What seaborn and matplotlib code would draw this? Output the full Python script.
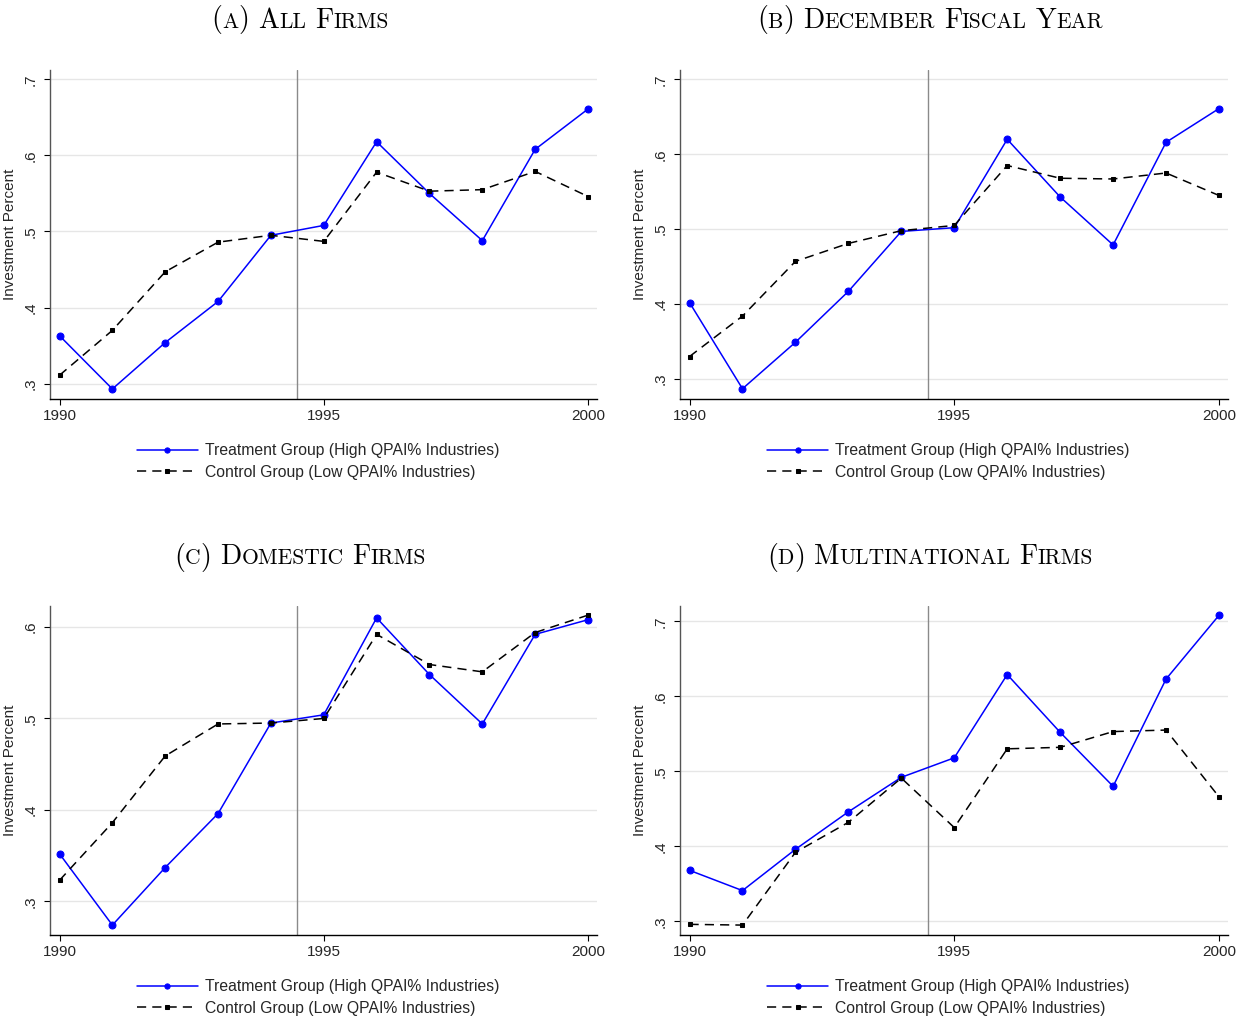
import pandas as pd
import matplotlib
matplotlib.use("Agg")
import matplotlib.pyplot as plt
from matplotlib.offsetbox import TextArea, HPacker, DrawingArea, AnnotationBbox
from matplotlib.ticker import FuncFormatter
import seaborn as sns

# Data
years = list(range(1990, 2001))

treat_all = [0.363, 0.293, 0.354, 0.408, 0.495, 0.508, 0.618, 0.550, 0.488, 0.608, 0.661]
ctrl_all = [0.311, 0.370, 0.447, 0.486, 0.495, 0.487, 0.578, 0.553, 0.555, 0.579, 0.546]

treat_dec = [0.402, 0.287, 0.349, 0.417, 0.497, 0.502, 0.620, 0.543, 0.479, 0.616, 0.661]
ctrl_dec = [0.330, 0.384, 0.457, 0.481, 0.498, 0.505, 0.585, 0.568, 0.567, 0.575, 0.545]

treat_dom = [0.352, 0.274, 0.337, 0.396, 0.495, 0.504, 0.610, 0.548, 0.494, 0.592, 0.608]
ctrl_dom = [0.323, 0.386, 0.459, 0.494, 0.495, 0.500, 0.592, 0.559, 0.551, 0.594, 0.613]

treat_mne = [0.368, 0.341, 0.396, 0.446, 0.492, 0.518, 0.629, 0.552, 0.480, 0.623, 0.708]
ctrl_mne = [0.296, 0.295, 0.392, 0.432, 0.491, 0.425, 0.530, 0.532, 0.553, 0.555, 0.466]

panel_letters = ["a", "b", "c", "d"]
panel_titles = ["All Firms", "December Fiscal Year", "Domestic Firms", "Multinational Firms"]
yticks_top = [0.3, 0.4, 0.5, 0.6, 0.7]
yticks_dom = [0.3, 0.4, 0.5, 0.6]
xticks = [1990, 1995, 2000]
treat_label = "Treatment Group (High QPAI% Industries)"
ctrl_label = "Control Group (Low QPAI% Industries)"

sns.set_style("white")
plt.rcParams["font.family"] = ["Liberation Sans", "DejaVu Sans"]

fig = plt.figure(figsize=(12.44, 10.17), dpi=100)

W, H = 1244, 1017
panels = [
    # axes box in pixels (left, top, right, bottom), ylim, yticks, title centre x, title centre y
    ((50, 70, 597, 399), (0.2798, 0.7123), yticks_top, 300, 20, treat_all, ctrl_all),
    ((680, 70, 1228, 399), (0.2733, 0.7125), yticks_top, 930, 20, treat_dec, ctrl_dec),
    ((50, 606, 597, 935), (0.2632, 0.6230), yticks_dom, 300, 557, treat_dom, ctrl_dom),
    ((680, 606, 1228, 935), (0.2818, 0.7204), yticks_top, 930, 557, treat_mne, ctrl_mne),
]


def smallcaps_title(ax, letter, title, cx, cy):
    big, small = 20, 15.5
    props_big = dict(family="cmr10", size=big, color="black")
    props_small = dict(family="cmr10", size=small, color="black")
    parts = [TextArea("(", textprops=props_big),
             TextArea(letter.upper(), textprops=props_small),
             TextArea(")", textprops=props_big)]
    for word in title.split():
        parts.append(DrawingArea(6.5, 1))
        parts.append(TextArea(word[0], textprops=props_big))
        parts.append(TextArea(word[1:].upper(), textprops=props_small))
    box = HPacker(children=parts, align="baseline", pad=0, sep=0)
    ab = AnnotationBbox(box, (cx / W, 1 - cy / H), xycoords="figure fraction",
                        frameon=False, box_alignment=(0.5, 0.5), annotation_clip=False)
    ax.add_artist(ab)


for (box, ylim, yt, tx, ty, treat, ctrl), letter, title in zip(panels, panel_letters, panel_titles):
    l, t, r, b = box
    ax = fig.add_axes([l / W, 1 - b / H, (r - l) / W, (b - t) / H])

    df = pd.DataFrame({"year": years, "treat": treat, "ctrl": ctrl})

    for y in yt:
        ax.axhline(y, color="#e6e6e6", lw=1.0, zorder=0)
    ax.axvline(1994.5, color="#8a8a8a", lw=1.0, zorder=1)

    sns.lineplot(data=df, x="year", y="treat", ax=ax, color="#0000ff", lw=1.1,
                 marker="o", markersize=5, markeredgecolor="#0000ff",
                 label=treat_label, zorder=3)
    sns.lineplot(data=df, x="year", y="ctrl", ax=ax, color="black", lw=1.1,
                 linestyle=(0, (6, 4)), marker="s", markersize=3.5,
                 markeredgecolor="black", label=ctrl_label, zorder=4)

    ax.set_xlim(1989.82, 2000.17)
    ax.set_ylim(*ylim)
    ax.set_xticks(xticks)
    ax.set_yticks(yt)
    ax.yaxis.set_major_formatter(FuncFormatter(lambda v, p: ("%.1f" % v).lstrip("0")))
    ax.set_xlabel("")
    ax.set_ylabel("Investment Percent", fontsize=11, labelpad=5)

    for s in ["top", "right"]:
        ax.spines[s].set_visible(False)
    ax.spines["left"].set_color("#555555")
    ax.spines["bottom"].set_color("black")
    ax.spines["left"].set_linewidth(1.0)
    ax.spines["bottom"].set_linewidth(1.0)

    ax.tick_params(axis="both", direction="out", length=4, width=0.8, color="black",
                   labelsize=11, bottom=True, left=True)
    ax.tick_params(axis="y", pad=5)
    ax.tick_params(axis="x", pad=3)
    for lab in ax.get_yticklabels():
        lab.set_rotation(90)
        lab.set_va("center")

    ax.legend(loc="upper center", bbox_to_anchor=(0.49, -0.115), frameon=False,
              fontsize=11.3, handlelength=3.9, handletextpad=0.45, labelspacing=0.42,
              borderaxespad=0, markerscale=0.75)

    smallcaps_title(ax, letter, title, tx, ty)

fig.savefig("out.png", dpi=100)
